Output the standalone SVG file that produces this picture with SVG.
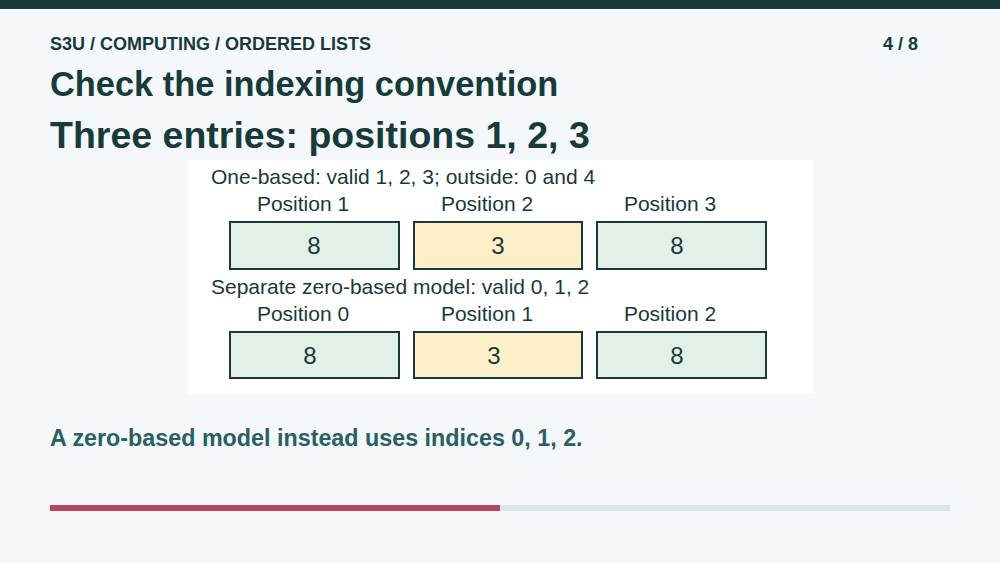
<svg xmlns="http://www.w3.org/2000/svg" width="1000" height="563" viewBox="0 0 1000 563">
<style>
text{font-family:"Liberation Sans",Arial,sans-serif;fill:#173a3a}
.h{font-weight:bold}
.l{font-size:21px}
.v{font-size:24px;text-anchor:middle}
.g{fill:#e2f0e6;stroke:#173a3a;stroke-width:2}
.y{fill:#fdf0c8;stroke:#173a3a;stroke-width:2}
</style>
<rect width="1000" height="563" fill="#f4f8fb"/>
<rect width="1000" height="9" fill="#173a3a"/>
<text x="50" y="50" class="h" font-size="18">S3U / COMPUTING / ORDERED LISTS</text>
<text x="918" y="50" class="h" font-size="18" text-anchor="end">4 / 8</text>
<text x="50" y="96" class="h" font-size="34.4">Check the indexing convention</text>
<text x="50" y="148" class="h" font-size="37.5">Three entries: positions 1, 2, 3</text>
<rect x="188" y="160" width="625" height="234" fill="#ffffff"/>
<text x="211" y="184" class="l">One-based: valid 1, 2, 3; outside: 0 and 4</text>
<g id="p1"><text x="303" y="211" class="l" text-anchor="middle">Position 1</text><rect x="230" y="222" width="169" height="47" class="g"/><text x="314" y="254" class="v">8</text></g>
<g id="p2"><text x="487" y="211" class="l" text-anchor="middle">Position 2</text><rect x="414" y="222" width="168" height="47" class="y"/><text x="498" y="254" class="v">3</text></g>
<g id="p3"><text x="670" y="211" class="l" text-anchor="middle">Position 3</text><rect x="597" y="222" width="169" height="47" class="g"/><text x="677" y="254" class="v">8</text></g>
<text x="211" y="294" class="l">Separate zero-based model: valid 0, 1, 2</text>
<g id="z0"><text x="303" y="321" class="l" text-anchor="middle">Position 0</text><rect x="230" y="332" width="169" height="46" class="g"/><text x="310" y="364" class="v">8</text></g>
<g id="z1"><text x="487" y="321" class="l" text-anchor="middle">Position 1</text><rect x="414" y="332" width="168" height="46" class="y"/><text x="494" y="364" class="v">3</text></g>
<g id="z2"><text x="670" y="321" class="l" text-anchor="middle">Position 2</text><rect x="597" y="332" width="169" height="46" class="g"/><text x="677" y="364" class="v">8</text></g>
<g id="connectors"/>
<text x="50" y="446" class="h" font-size="23.3" style="fill:#2a5f63">A zero-based model instead uses indices 0, 1, 2.</text>
<rect x="50" y="505" width="900" height="6" fill="#dde5e8"/>
<rect x="50" y="505" width="450" height="6" fill="#b5485e"/>
</svg>
